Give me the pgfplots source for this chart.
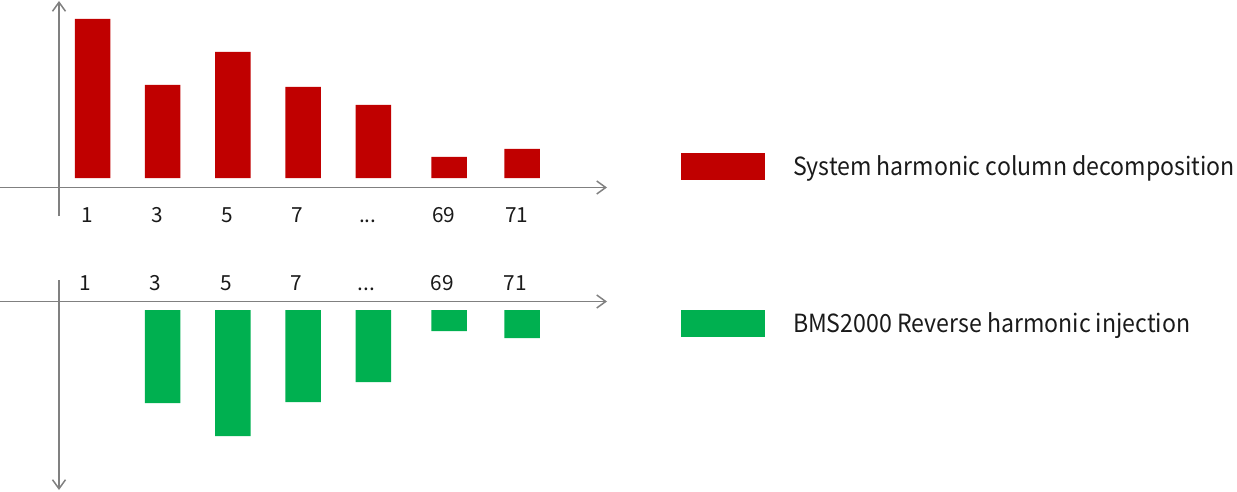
\documentclass[border=0pt]{standalone}
\usepackage{fontspec}
\setmainfont{Noto Sans CJK SC}
\newfontfamily\legfont[FakeStretch=0.925]{Noto Sans CJK SC}
\usepackage{pgfplots}
\usepackage{pgfplotstable}
\pgfplotsset{compat=1.18}
\usetikzlibrary{arrows.meta}
\definecolor{barred}{HTML}{C00000}
\definecolor{bargreen}{HTML}{00B050}
\definecolor{axgray}{HTML}{808080}
\definecolor{txt}{HTML}{1A1A1A}
\newcommand\tdots{...}

\pgfplotstableread{
x y
0 159
1 93
2 126
3 91
4 73
5.08 21
6.12 29
}\toptable

\pgfplotstableread{
x y
1 -93
2 -126
3 -92
4 -72
5.08 -21
6.12 -28
}\bottable

\pgfplotsset{
  harm/.style={
    x=35.1pt, y=0.5pt,
    xmin=-1.3177, xmax=7.372,
    axis line style={draw=none},
    ytick=\empty,
    xtick={0,1,2,3,4,5.08,6.12},
    xticklabels={1,3,5,7,\tdots,69,71},
    major tick length=0pt,
    clip=false,
    legend style={draw=none, fill=none, inner sep=0pt, outer sep=0pt,
      anchor=north west, legend cell align=left,
      font=\legfont\fontsize{12.5}{15}\selectfont, text=txt,
      nodes={inner sep=0pt, anchor=base west},
      /tikz/column sep=0pt},
  }
}

\begin{document}
\begin{tikzpicture}
\path[use as bounding box] (0pt,0pt) rectangle (618.5pt,-246pt);

\begin{axis}[harm,
  at={(0pt,-93.75pt)}, anchor=south west,
  ymin=-9.5, ymax=178,
  xticklabel style={anchor=base, yshift=-17.5pt, xshift=-2.75pt,
    font=\fontsize{10.4}{12}\selectfont, text=txt},
  legend style={at={(axis description cs:1.11639,0.184)}},
  legend image code/.code={\fill[barred] (0pt,-2.25pt) rectangle (42pt,11.25pt); \path (56pt,0pt);},
]
\addplot[ybar, bar width=17.75pt, fill=barred, draw=none] table[x=x,y=y]{\toptable};
\addlegendentry{System harmonic column decomposition}
\end{axis}

\begin{axis}[harm,
  at={(0pt,-150.75pt)}, anchor=north west,
  ymin=-182, ymax=8.5,
  xticklabel pos=upper,
  xticklabel style={anchor=base, yshift=5.4pt, xshift=-3.5pt,
    font=\fontsize{10.4}{12}\selectfont, text=txt},
  legend style={at={(axis description cs:1.11639,0.9554)}},
  legend image code/.code={\fill[bargreen] (0pt,-2.25pt) rectangle (42pt,11.25pt); \path (56pt,0pt);},
]
\addplot[ybar, bar width=17.75pt, fill=bargreen, draw=none] table[x=x,y=y]{\bottable};
\addlegendentry{BMS2000 Reverse harmonic injection}
\end{axis}

\begin{scope}[x=0.5pt, y=-0.5pt, line width=0.75pt, draw=axgray]
\draw[-{Straight Barb[length=4.5pt,width=6.5pt]}] (59,216) -- (59,1);
\draw[-{Straight Barb[length=4.5pt,width=6.5pt]}] (0,187.5) -- (607,187.5);
\draw[-{Straight Barb[length=4.5pt,width=6.5pt]}] (0,301.5) -- (607,301.5);
\draw[-{Straight Barb[length=4.5pt,width=6.5pt]}] (59,280) -- (59,490);
\end{scope}
\end{tikzpicture}
\end{document}
